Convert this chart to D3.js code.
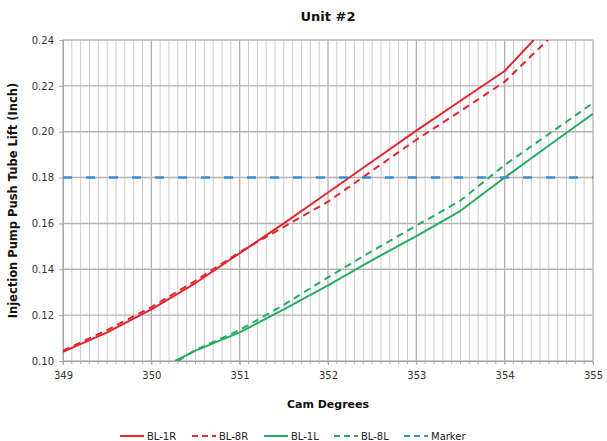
<!DOCTYPE html>
<html><head><meta charset="utf-8">
<script src="https://cdn.jsdelivr.net/npm/d3@7"></script>
<style>body{margin:0;background:#fff}svg{display:block}</style>
</head><body>
<svg id="c" width="607" height="441"></svg>
<script>
// ---- data ----
const title = "Unit #2";
const xLabel = "Cam Degrees";
const yLabel = "Injection Pump Push Tube Lift (Inch)";
const xTicks = [349, 350, 351, 352, 353, 354, 355];
const yTicks = [0.10, 0.12, 0.14, 0.16, 0.18, 0.20, 0.22, 0.24];
const seriesNames = ["BL-1R", "BL-8R", "BL-1L", "BL-8L", "Marker"];

const camBL1R  = [349, 349.5, 350, 350.5, 351, 351.5, 352, 352.5, 353, 353.5, 354, 354.33];
const liftBL1R = [0.104, 0.1125, 0.1225, 0.134, 0.147, 0.160, 0.1735, 0.187, 0.2005, 0.2135, 0.2265, 0.240];
const camBL8R  = [349, 349.5, 350, 350.5, 351, 351.5, 352, 352.5, 353, 353.5, 354, 354.5];
const liftBL8R = [0.1045, 0.1135, 0.1235, 0.135, 0.1475, 0.1585, 0.1695, 0.183, 0.1965, 0.209, 0.2218, 0.2405];
const camBL1L  = [350.27, 350.5, 351, 351.5, 352, 352.5, 353, 353.5, 354, 354.5, 355];
const liftBL1L = [0.100, 0.1045, 0.1125, 0.1225, 0.133, 0.144, 0.1545, 0.1655, 0.180, 0.194, 0.2078];
const camBL8L  = [350.3, 350.5, 351, 351.5, 352, 352.5, 353, 353.5, 354, 354.5, 355];
const liftBL8L = [0.100, 0.1048, 0.1135, 0.1245, 0.1365, 0.148, 0.159, 0.170, 0.1855, 0.199, 0.2125];
const camMarker  = [349, 355];
const liftMarker = [0.18, 0.18];

// ---- layout ----
const svg = d3.select("#c");
const W = 607, H = 441;
const m = {l: 63, r: 14, t: 40, b: 80};
const iw = W - m.l - m.r, ih = H - m.t - m.b;
const x = d3.scaleLinear().domain([349, 355]).range([m.l, m.l + iw]);
const y = d3.scaleLinear().domain([0.10, 0.24]).range([m.t + ih, m.t]);

const styles = [
  {color: "#e3262e", dash: null, width: 2},
  {color: "#e3262e", dash: "7,5", width: 2},
  {color: "#24ad5f", dash: null, width: 2},
  {color: "#24ad5f", dash: "7,5", width: 2},
  {color: "#3a8fd4", dash: "9,14", width: 2.5}
];
const series = [
  camBL1R.map((c, i) => [c, liftBL1R[i]]),
  camBL8R.map((c, i) => [c, liftBL8R[i]]),
  camBL1L.map((c, i) => [c, liftBL1L[i]]),
  camBL8L.map((c, i) => [c, liftBL8L[i]]),
  camMarker.map((c, i) => [c, liftMarker[i]])
];

// minor vertical grid
const minor = d3.range(3490, 3551).map(v => v / 10);
svg.append("g").selectAll("line").data(minor.filter(v => Math.abs(v - Math.round(v)) > 1e-6)).join("line")
  .attr("x1", d => x(d)).attr("x2", d => x(d)).attr("y1", m.t).attr("y2", m.t + ih)
  .attr("stroke", "#cdcdcd").attr("stroke-width", 1);
// major vertical grid
svg.append("g").selectAll("line").data(xTicks).join("line")
  .attr("x1", d => x(d)).attr("x2", d => x(d)).attr("y1", m.t).attr("y2", m.t + ih)
  .attr("stroke", "#aaaaaa").attr("stroke-width", 1.2);
// horizontal grid
svg.append("g").selectAll("line").data(yTicks).join("line")
  .attr("x1", m.l).attr("x2", m.l + iw).attr("y1", d => y(d)).attr("y2", d => y(d))
  .attr("stroke", "#b4b4b4").attr("stroke-width", 1.4);

// axes
const gx = svg.append("g").attr("transform", `translate(0,${m.t + ih})`)
  .call(d3.axisBottom(x).tickValues(xTicks).tickFormat(d3.format("d")).tickSize(4).tickPadding(7));
const gy = svg.append("g").attr("transform", `translate(${m.l},0)`)
  .call(d3.axisLeft(y).tickValues(yTicks).tickFormat(d3.format(".2f")).tickSize(4).tickPadding(5));
[gx, gy].forEach(g => {
  g.select(".domain").attr("stroke", "#a8a8a8");
  g.selectAll(".tick line").attr("stroke", "#a8a8a8");
  g.selectAll("text").attr("font-family", "DejaVu Sans, sans-serif").attr("font-size", 10).attr("fill", "#333");
});
// minor x ticks
svg.append("g").selectAll("line").data(minor).join("line")
  .attr("x1", d => x(d)).attr("x2", d => x(d)).attr("y1", m.t + ih).attr("y2", m.t + ih + 3)
  .attr("stroke", "#b0b0b0");

// lines
svg.append("clipPath").attr("id", "clip").append("rect")
  .attr("x", m.l).attr("y", m.t).attr("width", iw).attr("height", ih);
const line = d3.line().x(d => x(d[0])).y(d => y(d[1]));
svg.append("g").attr("clip-path", "url(#clip)").selectAll("path").data(series).join("path")
  .attr("d", line).attr("fill", "none")
  .attr("stroke", (d, i) => styles[i].color)
  .attr("stroke-width", (d, i) => styles[i].width)
  .attr("stroke-dasharray", (d, i) => styles[i].dash)
  .attr("stroke-linejoin", "round");

// titles
svg.append("text").attr("x", x(352)).attr("y", 21).attr("text-anchor", "middle")
  .attr("font-family", "DejaVu Sans, sans-serif").attr("font-weight", "bold").attr("font-size", 13)
  .attr("fill", "#111").text(title);
svg.append("text").attr("x", x(352)).attr("y", 408).attr("text-anchor", "middle")
  .attr("font-family", "DejaVu Sans, sans-serif").attr("font-weight", "bold").attr("font-size", 11)
  .attr("fill", "#111").text(xLabel);
svg.append("text").attr("transform", `translate(17,${m.t + ih / 2}) rotate(-90)`).attr("text-anchor", "middle")
  .attr("font-family", "DejaVu Sans, sans-serif").attr("font-weight", "bold").attr("font-size", 11.5)
  .attr("fill", "#111").text(yLabel);

// legend
const lg = svg.append("g").attr("transform", "translate(120,436)");
const itemX = [0, 72, 144, 214, 284];
seriesNames.forEach((n, i) => {
  const g = lg.append("g").attr("transform", `translate(${itemX[i]},0)`);
  g.append("line").attr("x1", 0).attr("x2", 24).attr("y1", 0).attr("y2", 0)
    .attr("stroke", styles[i].color).attr("stroke-width", 2)
    .attr("stroke-dasharray", styles[i].dash ? "6,4" : null);
  g.append("text").attr("x", 27).attr("y", 3.5)
    .attr("font-family", "DejaVu Sans, sans-serif").attr("font-size", 10).attr("fill", "#222").text(n);
});
</script>
</body></html>
